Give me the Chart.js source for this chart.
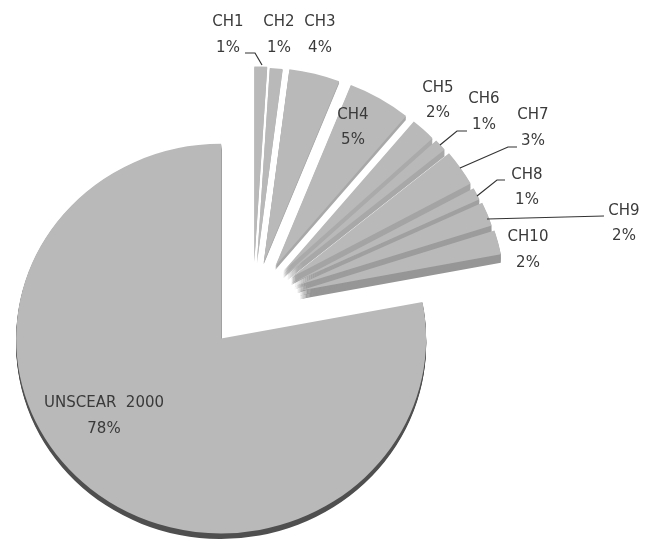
<!DOCTYPE html>
<html>
<head>
<meta charset="utf-8">
<style>html,body{margin:0;padding:0;background:#fff}canvas{display:block}</style>
<script src="https://cdn.jsdelivr.net/npm/chart.js@4/dist/chart.umd.min.js"></script>
</head>
<body>
<canvas id="pie" width="656" height="541"></canvas>
<script>
// Share of dose by source
const categories = ['UNSCEAR  2000','CH1','CH2','CH3','CH4','CH5','CH6','CH7','CH8','CH9','CH10'];
const shares = [78,1,1,4,5,2,1,3,1,2,2];

// Radial explosion of each slice, in pixels
const explode = [50,43,42,43,44,44,45,46,46,47,48];
// Side wall height of each slice, in pixels
const wallDepth = [6,1,1,2,4,7,7,8,8,8,9];
const wallColors = ['#4f4f4f','#adadad','#adadad','#a8a8a8','#a8a8a8','#aaaaaa','#a8a8a8','#a4a4a4','#a0a0a0','#9c9c9c','#969696'];
const topColor = '#b9b9b9';
const tilt = 0.95;
const startDegrees = 79.2;

// Label anchors: [x, first line y, second line y]
const labelAt = [[104,403,429],[228,22,48],[279,22,48],[320,22,48],[353,115,140],[438,88,113],
                 [484,99,125],[533,115,141],[527,175,200],[624,211,236],[528,237,263]];
// Leader polylines for the labels that sit away from their slice
const leaders = [
  [[245,53],[255,53],[262,65]],
  [[440,145],[457,131],[467,131]],
  [[460,168],[508,147],[517,147]],
  [[477,196],[497,180],[505,180]],
  [[487,219],[604,216]]
];

const explodePlugin = {
  id: 'explode',
  afterDatasetUpdate(chart) {
    chart.getDatasetMeta(0).data.forEach((arc, i) => {
      const mid = (arc.startAngle + arc.endAngle) / 2;
      arc.x += Math.cos(mid) * explode[i];
      arc.y += Math.sin(mid) * explode[i];
    });
  },
  beforeDatasetsDraw(chart) {
    const ctx = chart.ctx;
    const cy = (chart.chartArea.top + chart.chartArea.bottom) / 2;
    ctx.save();
    ctx.translate(0, cy);
    ctx.scale(1, tilt);
    ctx.translate(0, -cy);
    // Side walls go first so that every top face lies over them
    chart.getDatasetMeta(0).data.forEach((arc, i) => {
      ctx.fillStyle = wallColors[i];
      for (let d = 1; d <= wallDepth[i]; d++) {
        ctx.beginPath();
        ctx.moveTo(arc.x, arc.y + d);
        ctx.arc(arc.x, arc.y + d, arc.outerRadius, arc.startAngle, arc.endAngle);
        ctx.closePath();
        ctx.fill();
      }
    });
  },
  afterDatasetsDraw(chart) {
    const ctx = chart.ctx;
    ctx.restore();
    ctx.strokeStyle = '#333333';
    ctx.lineWidth = 1.2;
    leaders.forEach(line => {
      ctx.beginPath();
      line.forEach(([x, y], k) => k ? ctx.lineTo(x, y) : ctx.moveTo(x, y));
      ctx.stroke();
    });
    ctx.fillStyle = '#3a3a3a';
    ctx.font = '15px "DejaVu Sans"';
    ctx.textAlign = 'center';
    ctx.textBaseline = 'middle';
    categories.forEach((name, i) => {
      const [x, y1, y2] = labelAt[i];
      ctx.fillText(name, x, y1);
      ctx.fillText(shares[i] + '%', x, y2);
    });
  }
};

new Chart(document.getElementById('pie'), {
  type: 'pie',
  data: {
    labels: categories,
    datasets: [{ data: shares, backgroundColor: topColor, borderWidth: 0, clip: false }]
  },
  options: {
    responsive: false,
    animation: false,
    radius: 205,
    rotation: startDegrees,
    layout: { padding: { left: 0, right: 150, top: 63, bottom: 0 } },
    plugins: { legend: { display: false }, tooltip: { enabled: false } }
  },
  plugins: [explodePlugin]
});
</script>
</body>
</html>
